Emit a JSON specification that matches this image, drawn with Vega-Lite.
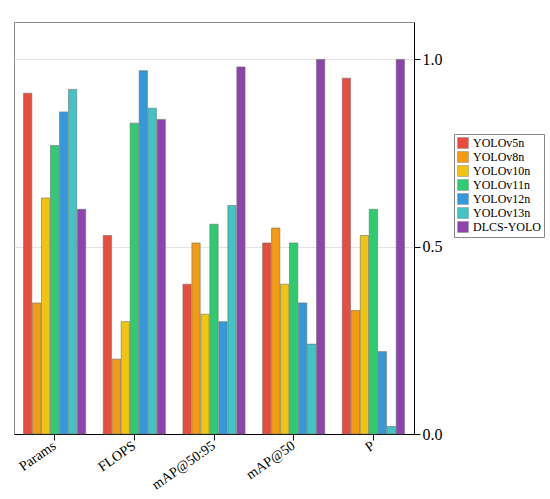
{
  "$schema": "https://vega.github.io/schema/vega-lite/v6.json",
  "width": 400,
  "height": 412,
  "background": "white",
  "padding": {"left": 14, "right": 4, "top": 22, "bottom": 4},
  "config": {
    "font": "Liberation Serif",
    "view": {"stroke": "#888888", "strokeWidth": 1},
    "axis": {
      "labelFont": "Liberation Serif",
      "labelFontSize": 14,
      "labelColor": "#000000",
      "domainColor": "#000000",
      "tickColor": "#000000",
      "gridColor": "#e2e2e2"
    }
  },
  "data": {
    "values": [
      {"model": "YOLOv5n", "metric": "Params", "value": 0.91},
      {"model": "YOLOv5n", "metric": "FLOPS", "value": 0.53},
      {"model": "YOLOv5n", "metric": "mAP@50:95", "value": 0.40},
      {"model": "YOLOv5n", "metric": "mAP@50", "value": 0.51},
      {"model": "YOLOv5n", "metric": "P", "value": 0.95},
      {"model": "YOLOv8n", "metric": "Params", "value": 0.35},
      {"model": "YOLOv8n", "metric": "FLOPS", "value": 0.20},
      {"model": "YOLOv8n", "metric": "mAP@50:95", "value": 0.51},
      {"model": "YOLOv8n", "metric": "mAP@50", "value": 0.55},
      {"model": "YOLOv8n", "metric": "P", "value": 0.33},
      {"model": "YOLOv10n", "metric": "Params", "value": 0.63},
      {"model": "YOLOv10n", "metric": "FLOPS", "value": 0.30},
      {"model": "YOLOv10n", "metric": "mAP@50:95", "value": 0.32},
      {"model": "YOLOv10n", "metric": "mAP@50", "value": 0.40},
      {"model": "YOLOv10n", "metric": "P", "value": 0.53},
      {"model": "YOLOv11n", "metric": "Params", "value": 0.77},
      {"model": "YOLOv11n", "metric": "FLOPS", "value": 0.83},
      {"model": "YOLOv11n", "metric": "mAP@50:95", "value": 0.56},
      {"model": "YOLOv11n", "metric": "mAP@50", "value": 0.51},
      {"model": "YOLOv11n", "metric": "P", "value": 0.60},
      {"model": "YOLOv12n", "metric": "Params", "value": 0.86},
      {"model": "YOLOv12n", "metric": "FLOPS", "value": 0.97},
      {"model": "YOLOv12n", "metric": "mAP@50:95", "value": 0.30},
      {"model": "YOLOv12n", "metric": "mAP@50", "value": 0.35},
      {"model": "YOLOv12n", "metric": "P", "value": 0.22},
      {"model": "YOLOv13n", "metric": "Params", "value": 0.92},
      {"model": "YOLOv13n", "metric": "FLOPS", "value": 0.87},
      {"model": "YOLOv13n", "metric": "mAP@50:95", "value": 0.61},
      {"model": "YOLOv13n", "metric": "mAP@50", "value": 0.24},
      {"model": "YOLOv13n", "metric": "P", "value": 0.02},
      {"model": "DLCS-YOLO", "metric": "Params", "value": 0.60},
      {"model": "DLCS-YOLO", "metric": "FLOPS", "value": 0.84},
      {"model": "DLCS-YOLO", "metric": "mAP@50:95", "value": 0.98},
      {"model": "DLCS-YOLO", "metric": "mAP@50", "value": 1.0},
      {"model": "DLCS-YOLO", "metric": "P", "value": 1.0}
    ]
  },
  "mark": {"type": "bar", "stroke": "#6e6e6e", "strokeWidth": 0.6},
  "encoding": {
    "x": {
      "field": "metric",
      "type": "nominal",
      "sort": ["Params", "FLOPS", "mAP@50:95", "mAP@50", "P"],
      "title": null,
      "scale": {"paddingInner": 0.22, "paddingOuter": 0.12},
      "axis": {"labelAngle": -35, "labelAlign": "right", "labelBaseline": "middle", "ticks": true, "tickSize": 6, "labelPadding": 4}
    },
    "xOffset": {
      "field": "model",
      "type": "nominal",
      "sort": ["YOLOv5n", "YOLOv8n", "YOLOv10n", "YOLOv11n", "YOLOv12n", "YOLOv13n", "DLCS-YOLO"],
      "scale": {"paddingInner": 0.08}
    },
    "y": {
      "field": "value",
      "type": "quantitative",
      "scale": {"domain": [0, 1.1], "nice": false},
      "axis": {
        "orient": "right",
        "title": null,
        "values": [0, 0.5, 1.0],
        "format": ".1f",
        "labelFontSize": 16,
        "tickSize": 6,
        "grid": true
      }
    },
    "color": {
      "field": "model",
      "type": "nominal",
      "sort": ["YOLOv5n", "YOLOv8n", "YOLOv10n", "YOLOv11n", "YOLOv12n", "YOLOv13n", "DLCS-YOLO"],
      "scale": {
        "domain": ["YOLOv5n", "YOLOv8n", "YOLOv10n", "YOLOv11n", "YOLOv12n", "YOLOv13n", "DLCS-YOLO"],
        "range": ["#e74c3c", "#f39c12", "#f1c40f", "#2ecc71", "#3498db", "#40c4c4", "#8e44ad"]
      },
      "legend": {
        "title": null,
        "orient": "none",
        "legendX": 440,
        "legendY": 112,
        "symbolType": "square",
        "symbolSize": 120,
        "symbolStrokeColor": "#888888",
        "symbolStrokeWidth": 0.5,
        "labelFont": "Liberation Serif",
        "labelFontSize": 12,
        "labelColor": "#000000",
        "rowPadding": 0,
        "strokeColor": "#888888",
        "fillColor": "white",
        "padding": 3
      }
    }
  }
}
